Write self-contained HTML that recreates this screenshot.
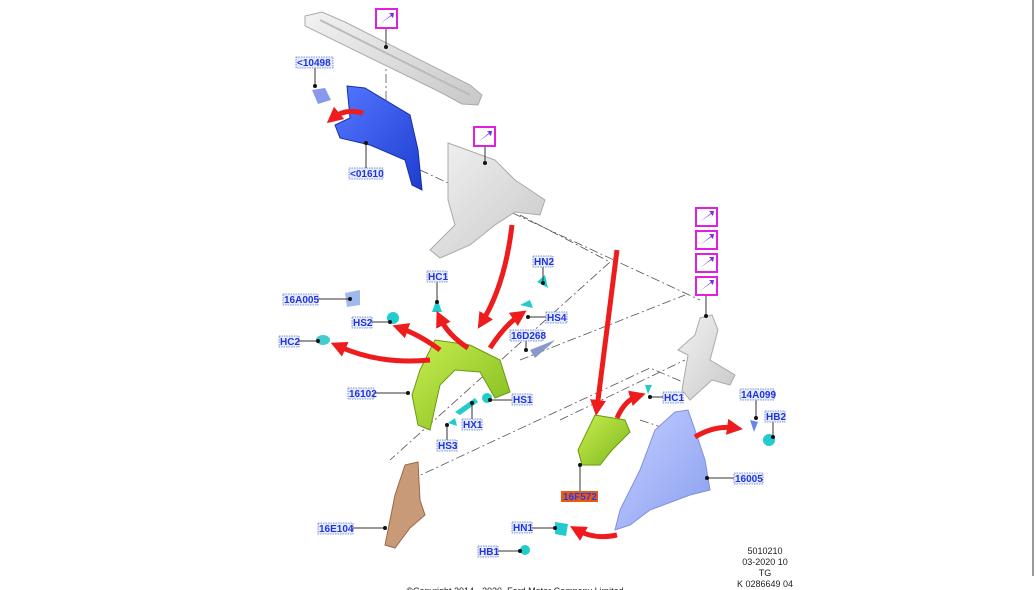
<!DOCTYPE html>
<html><head><meta charset="utf-8"><style>
html,body{margin:0;padding:0;background:#fff;width:1036px;height:590px;overflow:hidden}
svg{display:block}
.l{font:bold 10px "Liberation Sans",sans-serif;fill:#2233dd}
.lb{fill:#e4ecff;stroke:#6677bb;stroke-width:.8;stroke-dasharray:1.5 1}
.ld{stroke:#333;stroke-width:1;fill:none}
.dd{stroke:#555;stroke-width:.8;fill:none;stroke-dasharray:9 3 2 3}
.ar{fill:none;stroke:#ee1c1c;stroke-width:5}
.ft{font:9px "Liberation Sans",sans-serif;fill:#222;text-anchor:middle}
.pk{fill:#fff;stroke:#e020e0;stroke-width:2}
</style></head><body>
<svg width="1036" height="590" viewBox="0 0 1036 590" xmlns="http://www.w3.org/2000/svg">
<defs>
<marker id="ah" markerWidth="3.2" markerHeight="3.2" refX="1.6" refY="1.6" orient="auto" markerUnits="strokeWidth"><path d="M0,0 L3.2,1.6 L0,3.2z" fill="#ee1c1c"/></marker>
<linearGradient id="gr" x1="0" y1="0" x2="1" y2="1"><stop offset="0" stop-color="#f2f2f2"/><stop offset="1" stop-color="#c8c8c8"/></linearGradient>
<linearGradient id="gn" x1="0" y1="0" x2="1" y2="1"><stop offset="0" stop-color="#c8ee50"/><stop offset="1" stop-color="#7fb81c"/></linearGradient>
<linearGradient id="bl" x1="0" y1="0" x2="1" y2="1"><stop offset="0" stop-color="#5577ff"/><stop offset="1" stop-color="#1d3dd0"/></linearGradient>
<linearGradient id="lb2" x1="0" y1="0" x2="1" y2="1"><stop offset="0" stop-color="#c4d0ff"/><stop offset="1" stop-color="#8a9ef0"/></linearGradient>
</defs>
<line x1="1033" y1="0" x2="1033" y2="576" stroke="#999" stroke-width="2"/>
<path class="dd" d="M386 40 L386 140"/>
<path class="dd" d="M420 170 L700 300"/>
<path class="dd" d="M520 215 L610 262 L390 460"/>
<path class="dd" d="M520 360 L685 295"/>
<path class="dd" d="M560 420 L685 360"/>
<path class="dd" d="M410 480 L650 368 L690 385"/>
<path class="dd" d="M640 420 L700 440"/>
<!-- top crossmember -->
<path d="M305 16 L322 12 L345 22 L470 85 L482 95 L478 105 L462 104 L440 92 L305 26z" fill="url(#gr)" stroke="#aaa"/>
<path d="M320 20 L470 95" stroke="#bbb" stroke-width="2" fill="none"/>
<!-- blue part -->
<path d="M347 86 L365 88 L410 115 L418 150 L422 190 L412 185 L405 160 L370 145 L340 138 L335 125 L350 118z" fill="url(#bl)" stroke="#1530aa"/>
<path d="M312 90 L325 88 L331 100 L318 104z" fill="#8899ee"/>
<!-- grey dash panel -->
<path d="M448 143 L495 160 L515 180 L545 200 L540 215 L515 212 L495 225 L470 245 L440 258 L430 250 L455 225 L448 200z" fill="url(#gr)" stroke="#aaa"/>
<!-- right grey pillar -->
<path d="M700 318 L712 315 L718 330 L710 360 L735 375 L730 385 L712 380 L690 400 L682 390 L688 355 L678 350 L695 335z" fill="url(#gr)" stroke="#aaa"/>
<!-- green wheel arch -->
<path d="M435 340 L470 345 L500 360 L510 392 L495 398 L480 372 L455 370 L440 385 L430 430 L418 425 L412 395 L420 370z" fill="url(#gn)" stroke="#6a9a10"/>
<!-- green 16F572 -->
<path d="M595 415 L625 420 L630 432 L612 450 L600 465 L582 465 L578 450z" fill="url(#gn)" stroke="#6a9a10"/>
<!-- light blue fender -->
<path d="M675 412 L688 410 L695 430 L705 460 L710 490 L690 495 L650 510 L630 525 L615 530 L620 510 L640 470 L655 430z" fill="url(#lb2)" stroke="#8090dd"/>
<!-- brown bracket -->
<path d="M405 465 L418 462 L420 500 L425 515 L410 528 L395 548 L385 545 L390 520 L395 495z" fill="#c89a78" stroke="#9a6a4a"/>
<!-- small clips -->
<path d="M345 293 L360 290 L360 305 L347 307z" fill="#9fb8ee"/>
<circle cx="393" cy="318" r="6" fill="#22cccc"/>
<path d="M432 312 L442 312 L437 298z" fill="#22cccc"/>
<path d="M537 282 L545 275 L548 288z" fill="#22cccc"/>
<path d="M520 305 L530 300 L533 308z" fill="#22cccc"/>
<ellipse cx="323" cy="340" rx="7" ry="5" fill="#44cccc"/>
<path d="M530 350 L555 340 L550 345 L535 358z" fill="#8899cc"/>
<circle cx="487" cy="398" r="5" fill="#22cccc"/>
<path d="M455 412 L475 398 L478 402 L460 415z" fill="#22cccc"/>
<path d="M448 423 L455 418 L457 426z" fill="#22cccc"/>
<path d="M555 522 L568 524 L566 536 L555 534z" fill="#22cccc"/>
<circle cx="525" cy="550" r="5" fill="#22cccc"/>
<path d="M645 385 L652 385 L648 394z" fill="#22cccc"/>
<path d="M750 420 L758 422 L754 432z" fill="#6688ee"/>
<circle cx="769" cy="440" r="6" fill="#22cccc"/>
<!-- red arrows -->
<path class="ar" d="M363 113 Q345 108 333 118" marker-end="url(#ah)" stroke-width="2.5"/>
<path class="ar" d="M512 225 Q505 285 482 322" marker-end="url(#ah)"/>
<path class="ar" d="M430 360 Q380 365 338 346" marker-end="url(#ah)"/>
<path class="ar" d="M440 350 Q420 335 400 328" marker-end="url(#ah)"/>
<path class="ar" d="M468 348 Q448 335 440 318" marker-end="url(#ah)"/>
<path class="ar" d="M490 348 Q505 325 520 315" marker-end="url(#ah)"/>
<path class="ar" d="M617 250 L597 408" marker-end="url(#ah)" stroke-width="3"/>
<path class="ar" d="M617 418 Q625 400 638 396" marker-end="url(#ah)" stroke-width="3.5"/>
<path class="ar" d="M695 437 Q715 425 735 428" marker-end="url(#ah)"/>
<path class="ar" d="M617 535 Q595 540 577 530" marker-end="url(#ah)" stroke-width="3.5"/>
<g class="ld">
<path d="M386 28 V47"/><path d="M485 146 V163"/><path d="M706 295 V316"/>
<path d="M315 67 V86"/><path d="M366 169 V143"/>
<path d="M318 299 H350"/><path d="M372 322 H390"/><path d="M437 281 V302"/>
<path d="M543 266 V283"/><path d="M546 317 H528"/><path d="M526 340 V350"/>
<path d="M299 341 H318"/><path d="M374 393 H408"/><path d="M512 400 H490"/>
<path d="M472 420 V403"/><path d="M447 441 V425"/><path d="M353 528 H385"/>
<path d="M532 528 H555"/><path d="M498 551 H520"/><path d="M663 397 H650"/>
<path d="M756 399 V418"/><path d="M773 421 V437"/><path d="M734 478 H707"/>
<path d="M580 492 V465"/>
</g>
<g fill="#111">
<circle cx="386" cy="47" r="2"/><circle cx="485" cy="163" r="2"/><circle cx="706" cy="316" r="2"/>
<circle cx="315" cy="86" r="2"/><circle cx="366" cy="143" r="2"/><circle cx="350" cy="299" r="2"/>
<circle cx="390" cy="322" r="2"/><circle cx="437" cy="302" r="2"/><circle cx="543" cy="283" r="2"/>
<circle cx="528" cy="317" r="2"/><circle cx="526" cy="350" r="2"/><circle cx="318" cy="341" r="2"/>
<circle cx="408" cy="393" r="2"/><circle cx="490" cy="400" r="2"/><circle cx="472" cy="403" r="2"/>
<circle cx="447" cy="425" r="2"/><circle cx="385" cy="528" r="2"/><circle cx="555" cy="528" r="2"/>
<circle cx="520" cy="551" r="2"/><circle cx="650" cy="397" r="2"/><circle cx="756" cy="418" r="2"/>
<circle cx="773" cy="437" r="2"/><circle cx="707" cy="478" r="2"/><circle cx="580" cy="465" r="2"/>
</g>
<g>
<rect class="pk" x="376" y="9" width="21" height="19"/><rect class="pk" x="474" y="127" width="21" height="19"/>
<rect class="pk" x="696" y="208" width="21" height="18"/><rect class="pk" x="696" y="231" width="21" height="18"/>
<rect class="pk" x="696" y="254" width="21" height="18"/><rect class="pk" x="696" y="277" width="21" height="18"/>
<g fill="#7a2ee0">
<path d="M380 24 L391 15 L389 13 L394 13 L393 18 L391 16 Z"/>
<path d="M478 142 L489 133 L487 131 L492 131 L491 136 L489 134 Z"/>
<path d="M700 222 L711 213 L709 211 L714 211 L713 216 L711 214 Z"/>
<path d="M700 245 L711 236 L709 234 L714 234 L713 239 L711 237 Z"/>
<path d="M700 268 L711 259 L709 257 L714 257 L713 262 L711 260 Z"/>
<path d="M700 291 L711 282 L709 280 L714 280 L713 285 L711 283 Z"/>
</g></g>
<g>
<rect class="lb" x="296" y="57" width="37" height="11"/><text class="l" x="297" y="66">&lt;10498</text>
<rect class="lb" x="349" y="168" width="34" height="11"/><text class="l" x="350" y="177">&lt;01610</text>
<rect class="lb" x="283" y="294" width="35" height="11"/><text class="l" x="284" y="303">16A005</text>
<rect class="lb" x="352" y="317" width="20" height="11"/><text class="l" x="353" y="326">HS2</text>
<rect class="lb" x="427" y="271" width="20" height="11"/><text class="l" x="428" y="280">HC1</text>
<rect class="lb" x="533" y="256" width="20" height="11"/><text class="l" x="534" y="265">HN2</text>
<rect class="lb" x="546" y="312" width="21" height="11"/><text class="l" x="547" y="321">HS4</text>
<rect class="lb" x="510" y="330" width="33" height="11"/><text class="l" x="511" y="339">16D268</text>
<rect class="lb" x="279" y="336" width="20" height="11"/><text class="l" x="280" y="345">HC2</text>
<rect class="lb" x="348" y="388" width="26" height="11"/><text class="l" x="349" y="397">16102</text>
<rect class="lb" x="512" y="394" width="20" height="11"/><text class="l" x="513" y="403">HS1</text>
<rect class="lb" x="462" y="419" width="20" height="11"/><text class="l" x="463" y="428">HX1</text>
<rect class="lb" x="437" y="440" width="20" height="11"/><text class="l" x="438" y="449">HS3</text>
<rect class="lb" x="318" y="523" width="35" height="11"/><text class="l" x="319" y="532">16E104</text>
<rect class="lb" x="512" y="522" width="20" height="11"/><text class="l" x="513" y="531">HN1</text>
<rect class="lb" x="478" y="546" width="20" height="11"/><text class="l" x="479" y="555">HB1</text>
<rect class="lb" x="663" y="392" width="20" height="11"/><text class="l" x="664" y="401">HC1</text>
<rect class="lb" x="740" y="389" width="34" height="11"/><text class="l" x="741" y="398">14A099</text>
<rect class="lb" x="765" y="411" width="20" height="11"/><text class="l" x="766" y="420">HB2</text>
<rect class="lb" x="734" y="473" width="29" height="11"/><text class="l" x="735" y="482">16005</text>
<rect x="561" y="491" width="37" height="11" fill="#e85a10"/><text class="l" x="563" y="500" style="fill:#2a3aee">16F572</text>
</g>
<text class="ft" x="765" y="554">5010210</text>
<text class="ft" x="765" y="565">03-2020 10</text>
<text class="ft" x="765" y="576">TG</text>
<text class="ft" x="765" y="587">K 0286649 04</text>
<text class="ft" x="515" y="594">©Copyright  2014 - 2020, Ford Motor Company Limited</text>
</svg>
</body></html>
